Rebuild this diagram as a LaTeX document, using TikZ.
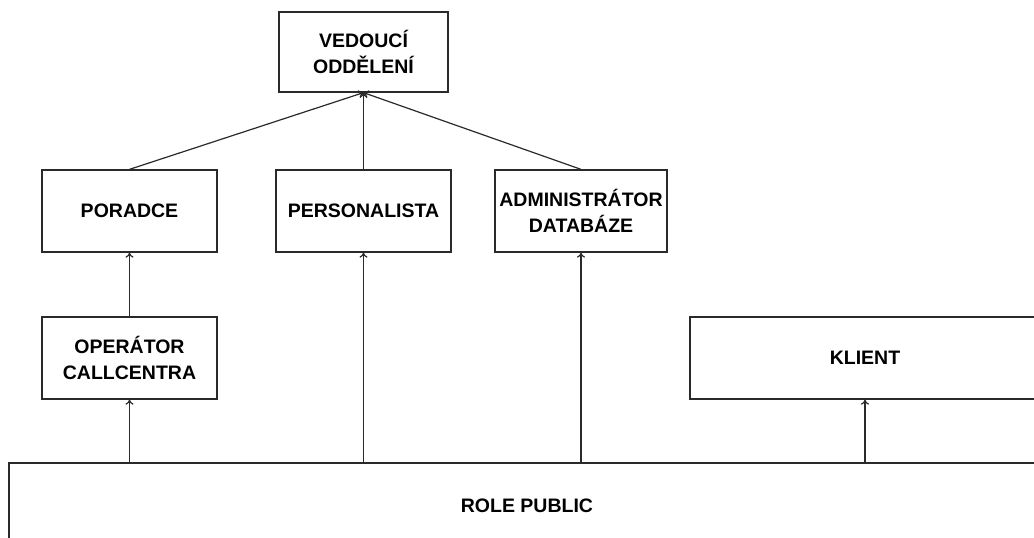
\documentclass[tikz,border=0pt]{standalone}
\usepackage{fontspec}
\setmainfont{Liberation Sans}
\usetikzlibrary{arrows.meta}
\definecolor{linec}{HTML}{2A2A2A}
\tikzset{
  rolebox/.style={draw=linec, line width=1.3pt, inner sep=0pt, align=center,
    font=\fontsize{19.5pt}{26pt}\selectfont\bfseries},
  arr/.style={draw=linec, line width=1.2pt, -{To[length=5pt,width=8pt]}},
}
\begin{document}
\begin{tikzpicture}[x=1pt,y=-1pt]
\useasboundingbox (0,0) rectangle (1034,538);
\clip (0,0) rectangle (1034,538);
\node[rolebox, minimum width=169pt, minimum height=80pt] (ved) at (363.5,52) {VEDOUCÍ\\ODDĚLENÍ};
\node[rolebox, minimum width=175pt, minimum height=82pt] (por) at (129.5,211) {PORADCE};
\node[rolebox, minimum width=175pt, minimum height=82pt] (per) at (363.5,211) {PERSONALISTA};
\node[rolebox, minimum width=172pt, minimum height=82pt] (adm) at (581,211) {ADMINISTRÁTOR\\DATABÁZE};
\node[rolebox, minimum width=175pt, minimum height=82pt] (ope) at (129.5,358) {OPERÁTOR\\CALLCENTRA};
\node[rolebox, minimum width=350pt, minimum height=82pt] (kli) at (865,358) {KLIENT};
\node[rolebox, minimum width=1036pt, minimum height=85pt] (rol) at (527,505.5) {ROLE PUBLIC};
\draw[arr] (por.north) -- (ved.south);
\draw[arr] (per.north) -- (ved.south);
\draw[arr] (adm.north) -- (ved.south);
\draw[arr] (ope.north) -- (por.south);
\draw[arr] (rol.north -| ope.south) -- (ope.south);
\draw[arr] (rol.north -| per.south) -- (per.south);
\draw[arr] (rol.north -| adm.south) -- (adm.south);
\draw[arr] (rol.north -| kli.south) -- (kli.south);
\end{tikzpicture}
\end{document}
